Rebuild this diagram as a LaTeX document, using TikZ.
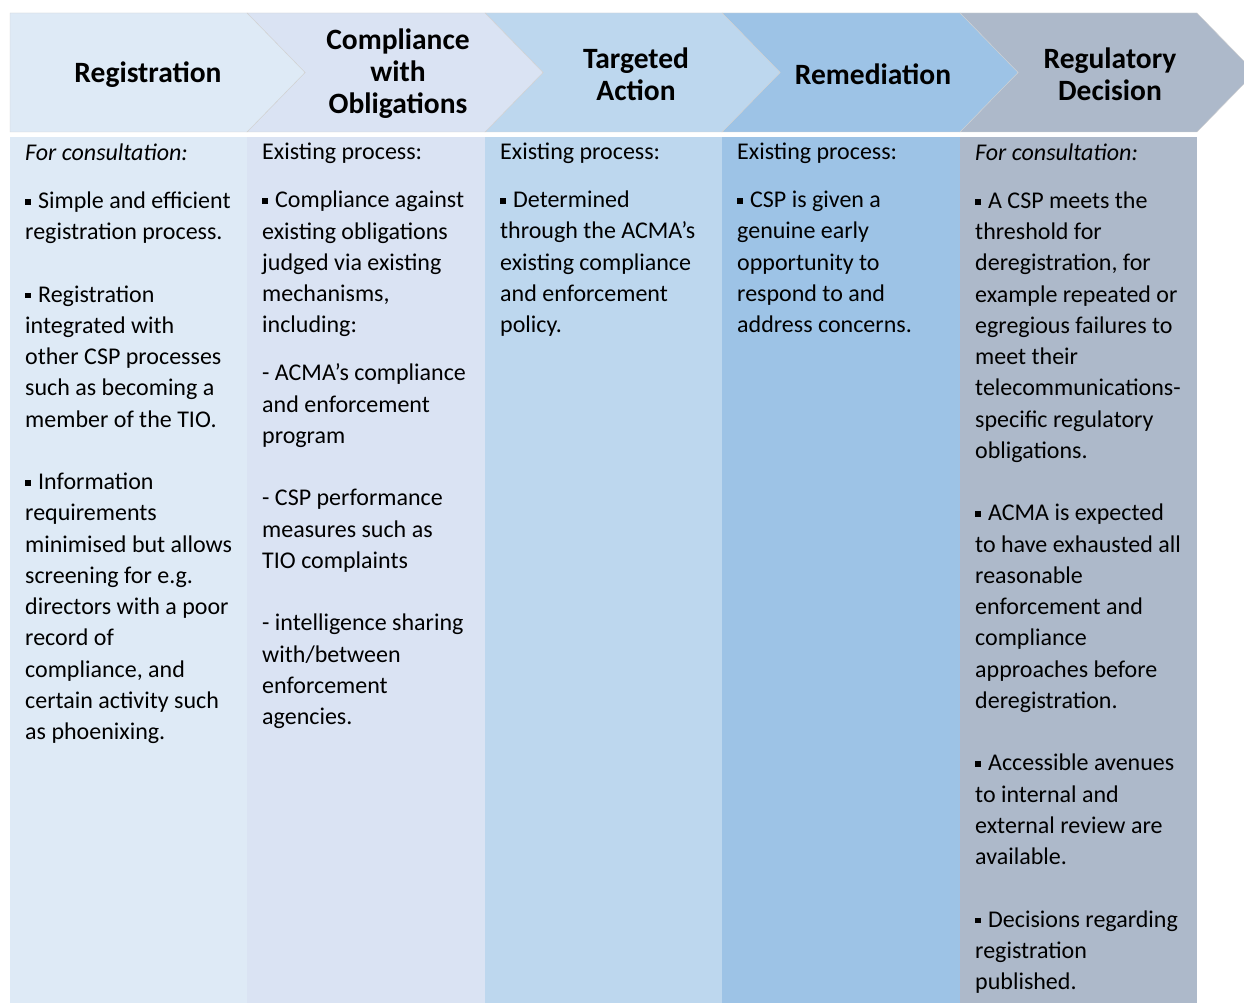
\documentclass[tikz,border=0pt]{standalone}
\usepackage{fontspec}
\setmainfont{Carlito}
\usepackage{xcolor}

\definecolor{regcol}{HTML}{DEEAF6}
\definecolor{comcol}{HTML}{DAE3F3}
\definecolor{tarcol}{HTML}{BDD7EE}
\definecolor{remcol}{HTML}{9DC3E6}
\definecolor{deccol}{HTML}{ADB9CA}

\newcommand{\bul}{\raisebox{0.15em}{\rule{0.24em}{0.24em}}\hspace{0.3em}}

\begin{document}
\begin{tikzpicture}[x=1pt,y=-1pt,
		chev/.style = {draw=black!18,line width=0.4pt},
		head/.style = {font=\fontsize{29.5}{32}\selectfont\bfseries,align=center},
		body/.style = {font=\fontsize{24}{31.25}\selectfont,align=left,anchor=base west,inner sep=0pt}]
			\useasboundingbox (0,0) rectangle (1244,1003);
			\fill[white] (0,0) rectangle (1244,1003);
			% header arrows
			\fill[deccol,chev] (960,13) -- (1197,13) -- (1255,72.5) -- (1197,132) -- (960,132) -- (1018,72.5) -- cycle;
			\fill[remcol,chev] (722,13) -- (960,13) -- (1018,72.5) -- (960,132) -- (722,132) -- (780,72.5) -- cycle;
			\fill[tarcol,chev] (485,13) -- (722,13) -- (780,72.5) -- (722,132) -- (485,132) -- (543,72.5) -- cycle;
			\fill[comcol,chev] (247,13) -- (485,13) -- (543,72.5) -- (485,132) -- (247,132) -- (305,72.5) -- cycle;
			\fill[regcol,chev] (10,13) -- (247,13) -- (305,72.5) -- (247,132) -- (10,132) -- cycle;
			% columns
			\fill[regcol] (10,137) rectangle (247,1003);
			\fill[comcol] (247,137) rectangle (485,1003);
			\fill[tarcol] (485,137) rectangle (722,1003);
			\fill[remcol] (722,137) rectangle (960,1003);
			\fill[deccol] (960,137) rectangle (1197,1003);
			\node[head] at (148,74.5) (h1) {Registration};
			\node[head] at (398,74) (h2) {Compliance\\with\\Obligations};
			\node[head] at (636,74) (h3) {Targeted\\Action};
			\node[head] at (873,74.5) (h4) {Remediation};
			\node[head] at (1110,74) (h5) {Regulatory\\Decision};
			% texts sit on the baseline of their last line
			\node[body] at (25,739.5) (b1) {\textit{For consultation:}\\[16.75pt]
				\bul Simple and efficient\\
				registration process.\\[31.25pt]
				\bul Registration\\
				integrated with\\
				other CSP processes\\
				such as becoming a\\
				member of the TIO.\\[31.25pt]
				\bul Information\\
				requirements\\
				minimised but allows\\
				screening for e.g.\\
				directors with a poor\\
				record of\\
				compliance, and\\
				certain activity such\\
				as phoenixing.};
			\node[body] at (262,724.5) (b2) {Existing process:\\[16.75pt]
				\bul Compliance against\\
				existing obligations\\
				judged via existing\\
				mechanisms,\\
				including:\\[16.75pt]
				- ACMA’s compliance\\
				and enforcement\\
				program\\[31.25pt]
				- CSP performance\\
				measures such as\\
				TIO complaints\\[31.25pt]
				- intelligence sharing\\
				with/between\\
				enforcement\\
				agencies.};
			\node[body] at (500,332.5) (b3) {Existing process:\\[16.75pt]
				\bul Determined\\
				through the ACMA’s\\
				existing compliance\\
				and enforcement\\
				policy.};
			\node[body] at (737,332.5) (b4) {Existing process:\\[16.75pt]
				\bul CSP is given a\\
				genuine early\\
				opportunity to\\
				respond to and\\
				address concerns.};
			\node[body] at (975,989.5) (b5) {\textit{For consultation:}\\[16.75pt]
				\bul A CSP meets the\\
				threshold for\\
				deregistration, for\\
				example repeated or\\
				egregious failures to\\
				meet their\\
				telecommunications-\\
				specific regulatory\\
				obligations.\\[31.25pt]
				\bul ACMA is expected\\
				to have exhausted all\\
				reasonable\\
				enforcement and\\
				compliance\\
				approaches before\\
				deregistration.\\[31.25pt]
				\bul Accessible avenues\\
				to internal and\\
				external review are\\
				available.\\[31.25pt]
				\bul Decisions regarding\\
				registration\\
				published.};
		\end{tikzpicture}
\end{document}
